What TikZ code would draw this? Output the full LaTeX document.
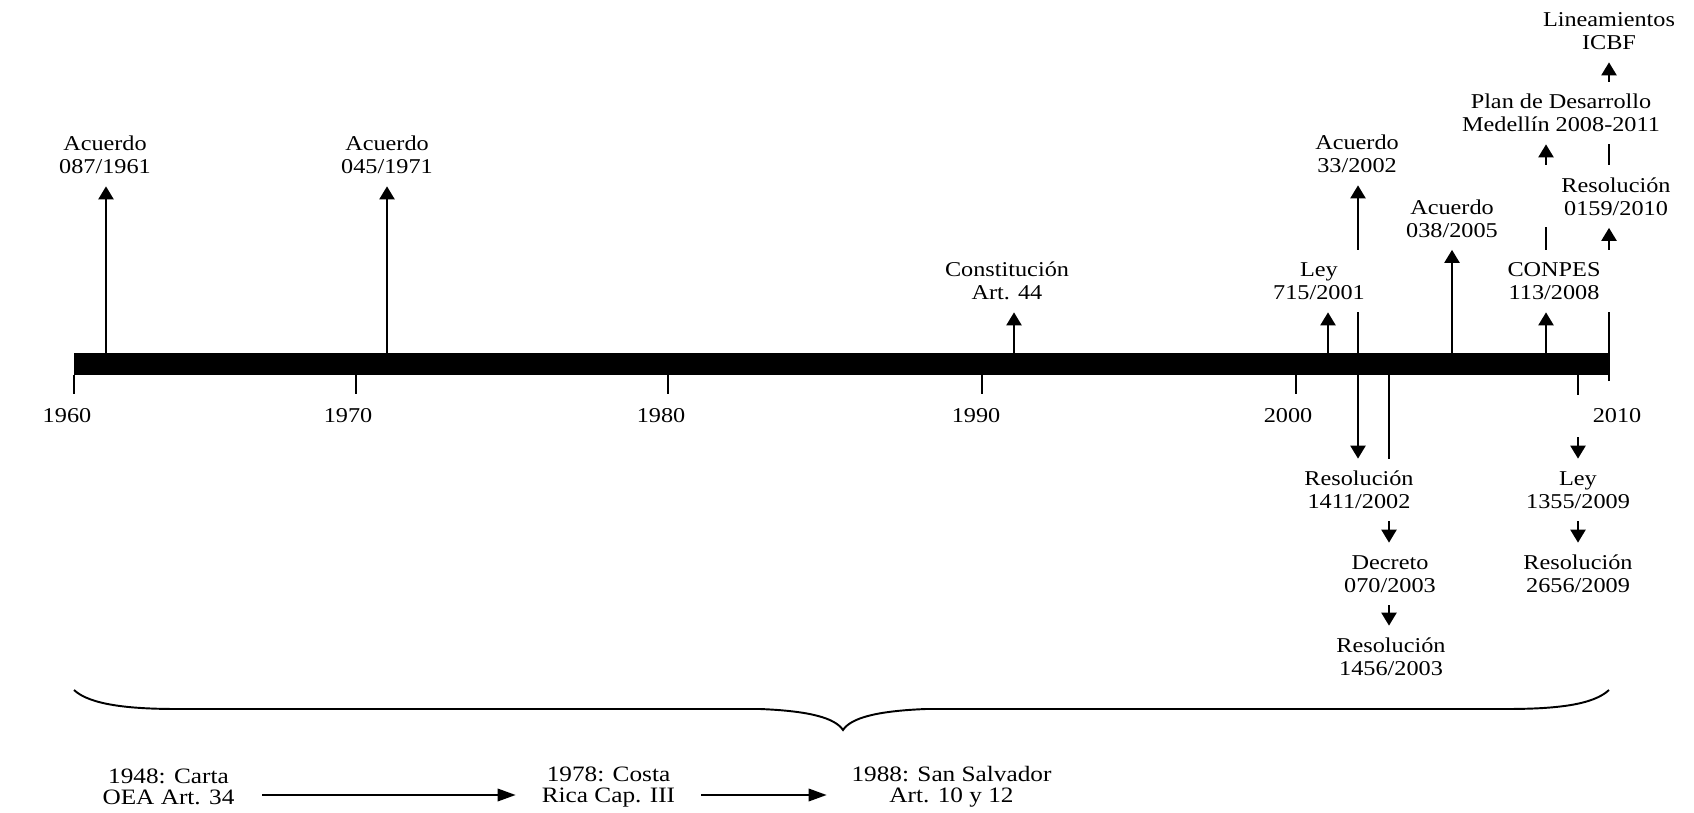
\documentclass[tikz,border=0pt]{standalone}
\usepackage{fontspec}
\setmainfont{Liberation Serif}[FakeStretch=1.15]
\usetikzlibrary{arrows.meta,calc}
\pgfdeclarelayer{back}
\pgfsetlayers{back,main}
\begin{document}
\begin{tikzpicture}[
  evt/.style={fill=white,align=center,inner sep=0pt,minimum height=1.24cm,font=\fontsize{12}{13}\selectfont},
  yr/.style={fill=white,inner sep=0pt,minimum width=2.2cm,minimum height=0.84cm,font=\fontsize{12}{13}\selectfont},
  hist/.style={align=center,inner sep=0pt,font=\fontsize{12.5}{12}\selectfont},
  arr/.style={line width=1.3pt,-{Triangle[length=0.26cm,width=0.3cm]}},
  arrb/.style={line width=1.1pt,-{Triangle[length=0.36cm,width=0.25cm]}}]
\useasboundingbox (0,0) rectangle (33.88,16.24);
% ==========================================
\node[fill=black,inner sep=0pt,minimum width=30.70cm,minimum height=0.44cm] (line) at (16.83,8.96) {};
%
\foreach \x/\lx/\yr in {1.48/1.34/1960, 7.12/6.96/1970, 13.36/13.22/1980, 19.64/19.52/1990, 25.92/25.76/2000}{
  \draw[line width=1.3pt] (\x,8.74) -- (\x,8.36);
  \node[yr] (yr\yr) at (\lx,7.92) {\yr};
}
\node[yr] (yr2010) at (32.34,7.92) {2010};
%
\coordinate (t1961) at (2.12,9.18);
\coordinate (t1971) at (7.74,9.18);
\coordinate (t1991) at (20.28,9.18);
\coordinate (t2001) at (26.56,9.18);
\coordinate (t2002) at (27.16,8.96);
\coordinate (t2003) at (27.78,8.74);
\coordinate (t2005) at (29.04,9.18);
\coordinate (t2008) at (30.92,9.18);
\coordinate (t2009) at (31.56,8.74);
\coordinate (t2010) at (32.18,8.62);
%
\node[evt] (a1961) at (2.10,13.14) {Acuerdo\\087/1961};
\node[evt] (a1971) at (7.74,13.14) {Acuerdo\\045/1971};
\node[evt] (c1991) at (20.14,10.62) {Constitución\\Art. 44};
\node[evt,minimum width=3.12cm] (l2001) at (26.38,10.62) {Ley\\715/2001};
\node[evt] (a2002) at (27.14,13.16) {Acuerdo\\33/2002};
\node[evt,minimum width=3.74cm] (r2002) at (27.18,6.44) {Resolución\\1411/2002};
\node[evt] (d2003) at (27.80,4.76) {Decreto\\070/2003};
\node[evt] (r2003) at (27.82,3.10) {Resolución\\1456/2003};
\node[evt] (a2005) at (29.04,11.87) {Acuerdo\\038/2005};
\node[evt,minimum width=3.5cm] (cp2008) at (31.08,10.62) {CONPES\\113/2008};
\node[evt,minimum width=5.6cm] (pd2008) at (31.22,13.98) {Plan de Desarrollo\\Medellín 2008-2011};
\node[evt] (l2009) at (31.56,6.44) {Ley\\1355/2009};
\node[evt] (r2009) at (31.56,4.76) {Resolución\\2656/2009};
\node[evt,minimum width=3.4cm] (r2010) at (32.32,12.31) {Resolución\\0159/2010};
\node[evt] (icbf) at (32.18,15.62) {Lineamientos\\ICBF};
%
\begin{pgfonlayer}{back}
\draw[arr] (t1961) -- (t1961 |- a1961.south);
\draw[arr] (t1971) -- (t1971 |- a1971.south);
\draw[arr] (t1991) -- (t1991 |- c1991.south);
\draw[arr] (t2001) -- (t2001 |- l2001.south);
\draw[arr] (t2002) -- (t2002 |- a2002.south);
\draw[arr] (t2002) -- (t2002 |- r2002.north);
\draw[line width=1.3pt] (t2003) -- (t2003 |- r2002.north);
\draw[arr] (t2003 |- r2002.south) -- (t2003 |- d2003.north);
\draw[arr] (t2003 |- d2003.south) -- (t2003 |- r2003.north);
\draw[arr] (t2005) -- (t2005 |- a2005.south);
\draw[arr] (t2008) -- (t2008 |- cp2008.south);
\draw[arr] (t2008 |- cp2008.north) -- (t2008 |- pd2008.south);
\draw[arr] (t2009) -- (t2009 |- l2009.north);
\draw[arr] (l2009.south) -- (r2009.north);
\draw[arr] (t2010) -- (t2010 |- r2010.south);
\draw[arr] (t2010 |- r2010.north) -- (t2010 |- icbf.south);
\end{pgfonlayer}
% =============================================
\draw[line width=1.1pt] (1.48,2.44) .. controls (1.80,2.14) and (2.60,2.06) .. (3.54,2.06)
  -- (15.20,2.06) .. controls (16.20,2.02) and (16.70,1.88) .. (16.86,1.64)
  .. controls (17.02,1.88) and (17.52,2.02) .. (18.52,2.06)
  -- (30.12,2.06) .. controls (31.12,2.06) and (31.86,2.14) .. (32.18,2.44);
%
\node[hist,minimum width=3.74cm] (h1948) at (3.37,0.50) {1948: Carta\\OEA Art. 34};
\node[hist,minimum width=3.70cm] (h1978) at (12.17,0.50) {1978: Costa\\Rica Cap. III};
\node[hist,minimum width=4.98cm] (h1988) at (19.03,0.50) {1988: San Salvador\\Art. 10 y 12};
\draw[arrb] ([yshift=-0.16cm]h1948.east) -- ([yshift=-0.16cm]h1978.west);%Arrow.
\draw[arrb] ([yshift=-0.16cm]h1978.east) -- ([yshift=-0.16cm]h1988.west);%Arrow.
% =============================================
\end{tikzpicture}
\end{document}
